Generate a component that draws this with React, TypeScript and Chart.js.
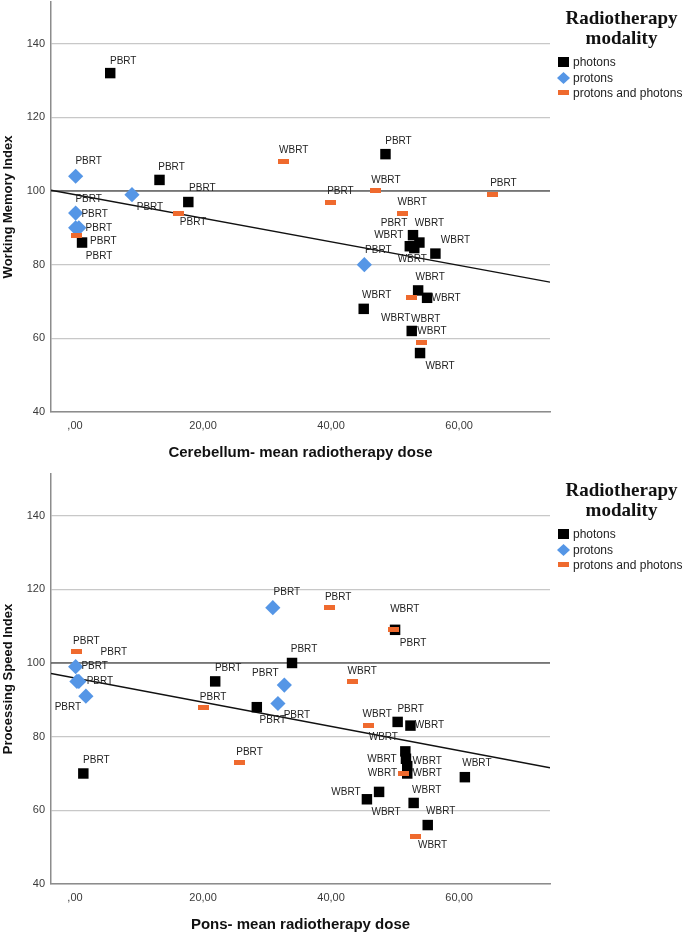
import React, { useEffect, useRef } from "react";
import { Chart, registerables } from "chart.js";

Chart.register(...registerables);

// ---------- shared axis values ----------
const xTicks = [0, 20, 40, 60];
const yTicks = [40, 60, 80, 100, 120, 140];
const xMin = -3.75;
const xMax = 74.2;
const yMin = 40;
const yMax = 151.3;
const referenceLevel = 100;
const legendTitle = ["Radiotherapy", "modality"];
const seriesNames = ["photons", "protons", "protons and photons"];

// ---------- Working Memory Index vs Cerebellum dose ----------
// [dose, index, label]
const wmPhotons: [number, number, string][] = [
  [5.5, 132, "PBRT"],
  [13.2, 103, "PBRT"],
  [17.7, 97, "PBRT"],
  [1.1, 86, "PBRT"],
  [48.5, 110, "PBRT"],
  [52.8, 88, "PBRT"],
  [53.8, 86, "WBRT"],
  [52.3, 85, "WBRT"],
  [53.0, 84.5, "WBRT"],
  [56.3, 83, "WBRT"],
  [53.6, 73, "WBRT"],
  [55.0, 71, "WBRT"],
  [45.1, 68, "WBRT"],
  [52.6, 62, "WBRT"],
  [53.9, 56, "WBRT"],
];
const wmPhotonsLabelShift: [number, number][] = [
  [13, -12], [12, -13], [14, -14], [17, 14], [13, -13], [-19, -12], [10, -19],
  [-21, -11], [-2, 11], [20, -13], [12, -13], [19, 0], [13, -14], [14, -12], [20, 13],
];
const wmProtons: [number, number, string][] = [
  [0.1, 104, "PBRT"],
  [0.1, 94, "PBRT"],
  [0.1, 90, "PBRT"],
  [0.6, 90, "PBRT"],
  [8.9, 99, "PBRT"],
  [45.2, 80, "PBRT"],
];
const wmProtonsLabelShift: [number, number][] = [
  [13, -15], [13, -14], [19, -14], [20, 0], [18, 13], [14, -14],
];
const wmMixed: [number, number, string][] = [
  [0.2, 88, "PBRT"],
  [16.1, 94, "PBRT"],
  [32.6, 108, "WBRT"],
  [39.9, 97, "PBRT"],
  [47.0, 100, "WBRT"],
  [65.2, 99, "PBRT"],
  [51.1, 94, "WBRT"],
  [52.6, 71, "WBRT"],
  [54.2, 59, "WBRT"],
];
const wmMixedLabelShift: [number, number][] = [
  [27, 6], [15, 9], [10, -11], [10, -11], [10, -11], [11, -11], [10, -11], [-16, 20], [10, -11],
];
const wmFit = { intercept: 99.0, slope: -0.32 };

// ---------- Processing Speed Index vs Pons dose ----------
const psPhotons: [number, number, string][] = [
  [1.3, 70, "PBRT"],
  [21.9, 95, "PBRT"],
  [28.4, 88, "PBRT"],
  [33.9, 100, "PBRT"],
  [50.0, 109, "PBRT"],
  [50.4, 84, "PBRT"],
  [52.4, 83, "WBRT"],
  [51.6, 76, "WBRT"],
  [51.7, 74, "WBRT"],
  [51.9, 72, "WBRT"],
  [51.9, 70, "WBRT"],
  [60.9, 69, "WBRT"],
  [45.6, 63, "WBRT"],
  [47.5, 65, "WBRT"],
  [52.9, 62, "WBRT"],
  [55.1, 56, "WBRT"],
];
const psPhotonsLabelShift: [number, number][] = [
  [13, -13], [13, -13], [16, 13], [12, -14], [18, 13], [13, -13], [19, 0], [-22, -14],
  [-24, 0], [20, -5], [20, 0], [12, -14], [-21, -7], [7, 20], [13, -13], [13, -14],
];
const psProtons: [number, number, string][] = [
  [0.1, 99, "PBRT"],
  [0.3, 95, "PBRT"],
  [0.6, 95, "PBRT"],
  [1.7, 91, "PBRT"],
  [30.9, 115, "PBRT"],
  [32.7, 94, "PBRT"],
  [31.7, 89, "PBRT"],
];
const psProtonsLabelShift: [number, number][] = [
  [19, 0], [23, 0], [35, -29], [-18, 11], [14, -15], [-19, -12], [19, 12],
];
const psMixed: [number, number, string][] = [
  [0.2, 103, "PBRT"],
  [20.0, 88, "PBRT"],
  [25.7, 73, "PBRT"],
  [39.7, 115, "PBRT"],
  [43.3, 95, "WBRT"],
  [49.8, 109, "WBRT"],
  [45.8, 83, "WBRT"],
  [51.3, 70, "WBRT"],
  [53.2, 53, "WBRT"],
];
const psMixedLabelShift: [number, number][] = [
  [10, -11], [10, -10], [10, -10], [9, -10], [10, -10], [11, -21], [9, -11], [-21, 0], [17, 9],
];
const psFit = { intercept: 95.9, slope: -0.328 };

// ---------- styles ----------
const BLACK = "#000000";
const BLUE = "#5596E6";
const ORANGE = "#EF6A2E";

function makeOrangeBar(): HTMLCanvasElement {
  const c = document.createElement("canvas");
  c.width = 11;
  c.height = 5;
  const g = c.getContext("2d")!;
  g.fillStyle = ORANGE;
  g.fillRect(0, 0, 11, 5);
  return c;
}

const fmtTick = (v: number) => (v === 0 ? ",00" : `${v},00`);

const labelPlugin = {
  id: "pointLabels",
  afterDatasetsDraw(chart: any) {
    const ctx = chart.ctx;
    ctx.save();
    ctx.font = '10px "Liberation Sans", Arial, sans-serif';
    ctx.fillStyle = "#222";
    ctx.textAlign = "center";
    ctx.textBaseline = "middle";
    chart.data.datasets.forEach((ds: any, di: number) => {
      if (!ds.pointText) return;
      const meta = chart.getDatasetMeta(di);
      meta.data.forEach((el: any, i: number) => {
        const [dx, dy] = ds.labelShift[i];
        ctx.fillText(ds.pointText[i], el.x + dx, el.y + dy);
      });
    });
    ctx.restore();
  },
};

const legendPlugin = {
  id: "sideLegend",
  afterDraw(chart: any) {
    const ctx = chart.ctx;
    const t = chart.chartArea.top;
    ctx.save();
    ctx.fillStyle = "#111";
    ctx.textAlign = "center";
    ctx.textBaseline = "middle";
    ctx.font = 'bold 19px "Liberation Serif", "Times New Roman", serif';
    ctx.fillText(legendTitle[0], 621.5, t + 17);
    ctx.fillText(legendTitle[1], 621.5, t + 37);
    const ys = [t + 60, t + 76, t + 91];
    const mx = 563.5;
    // photons square
    ctx.fillStyle = BLACK;
    ctx.fillRect(mx - 5.5, ys[0] - 5, 11, 10);
    // protons diamond
    ctx.fillStyle = BLUE;
    ctx.beginPath();
    ctx.moveTo(mx - 6.5, ys[1]);
    ctx.lineTo(mx, ys[1] - 6);
    ctx.lineTo(mx + 6.5, ys[1]);
    ctx.lineTo(mx, ys[1] + 6);
    ctx.closePath();
    ctx.fill();
    // mixed bar
    ctx.fillStyle = ORANGE;
    ctx.fillRect(mx - 5.5, ys[2] - 3, 11, 5);
    ctx.fillStyle = "#222";
    ctx.textAlign = "left";
    ctx.font = '12px "Liberation Sans", Arial, sans-serif';
    seriesNames.forEach((n, i) => ctx.fillText(n, 573, ys[i] + 1));
    ctx.restore();
  },
};

type Pt = [number, number, string];

interface PanelProps {
  height: number;
  xTitle: string;
  yTitle: string;
  photons: Pt[];
  photonsShift: [number, number][];
  protons: Pt[];
  protonsShift: [number, number][];
  mixed: Pt[];
  mixedShift: [number, number][];
  fit: { intercept: number; slope: number };
}

function ScatterPanel(p: PanelProps) {
  const ref = useRef<HTMLCanvasElement>(null);
  useEffect(() => {
    const canvas = ref.current!;
    const toXY = (arr: Pt[]) => arr.map(([x, y]) => ({ x, y }));
    const chart = new Chart(canvas, {
      type: "scatter",
      data: {
        datasets: [
          {
            type: "line",
            data: [
              { x: xMin, y: referenceLevel },
              { x: xMax, y: referenceLevel },
            ],
            borderColor: "#222",
            borderWidth: 1.2,
            pointRadius: 0,
            order: 10,
          } as any,
          {
            type: "line",
            data: [
              { x: xMin, y: p.fit.intercept + p.fit.slope * xMin },
              { x: xMax, y: p.fit.intercept + p.fit.slope * xMax },
            ],
            borderColor: "#111",
            borderWidth: 1.4,
            pointRadius: 0,
            order: 9,
          } as any,
          {
            label: seriesNames[0],
            data: toXY(p.photons),
            pointStyle: "rect",
            pointRadius: 7.4,
            pointHoverRadius: 7.4,
            backgroundColor: BLACK,
            borderWidth: 0,
            order: 3,
            pointText: p.photons.map((d) => d[2]),
            labelShift: p.photonsShift,
          } as any,
          {
            label: seriesNames[1],
            data: toXY(p.protons),
            pointStyle: "rectRot",
            pointRadius: 7.6,
            pointHoverRadius: 7.6,
            backgroundColor: BLUE,
            borderWidth: 0,
            order: 2,
            pointText: p.protons.map((d) => d[2]),
            labelShift: p.protonsShift,
          } as any,
          {
            label: seriesNames[2],
            data: toXY(p.mixed),
            pointStyle: makeOrangeBar(),
            pointRadius: 6,
            backgroundColor: ORANGE,
            borderWidth: 0,
            order: 1,
            pointText: p.mixed.map((d) => d[2]),
            labelShift: p.mixedShift,
          } as any,
        ],
      },
      options: {
        animation: false,
        responsive: false,
        devicePixelRatio: 1,
        events: [],
        layout: {
          autoPadding: false,
          padding: { left: 0, right: 135, top: 2, bottom: p.height - 2 - 410 - 50 },
        },
        plugins: {
          legend: { display: false },
          tooltip: { enabled: false },
        },
        scales: {
          x: {
            type: "linear",
            min: xMin,
            max: xMax,
            afterBuildTicks: (s: any) => {
              s.ticks = xTicks.map((v) => ({ value: v }));
            },
            afterFit: (s: any) => {
              s.height = 50;
              s.paddingLeft = 0;
              s.paddingRight = 0;
            },
            ticks: {
              callback: (v: any) => fmtTick(Number(v)),
              font: { family: '"Liberation Sans", Arial, sans-serif', size: 11 },
              color: "#3a3a3a",
              padding: 7,
              maxRotation: 0,
              autoSkip: false,
            },
            grid: { display: false, drawTicks: false },
            border: { display: true, color: "#8c8c8c", width: 1.5 },
            title: {
              display: true,
              text: p.xTitle,
              color: "#111",
              font: { family: '"Liberation Sans", Arial, sans-serif', size: 15, weight: "bold" },
              padding: { top: 0, bottom: 0 },
            },
          },
          y: {
            type: "linear",
            min: yMin,
            max: yMax,
            afterBuildTicks: (s: any) => {
              s.ticks = yTicks.map((v) => ({ value: v }));
            },
            afterFit: (s: any) => {
              s.width = 51;
              s.paddingTop = 0;
              s.paddingBottom = 0;
            },
            ticks: {
              font: { family: '"Liberation Sans", Arial, sans-serif', size: 11 },
              color: "#3a3a3a",
              padding: 6,
              autoSkip: false,
            },
            grid: {
              drawTicks: false,
              color: "#c8c8c8",
              lineWidth: 1.2,
            },
            border: { display: true, color: "#8c8c8c", width: 1.5 },
            title: {
              display: true,
              text: p.yTitle,
              color: "#111",
              font: { family: '"Liberation Sans", Arial, sans-serif', size: 13, weight: "bold" },
              padding: { top: 1, bottom: 0 },
            },
          },
        },
      },
      plugins: [labelPlugin, legendPlugin],
    } as any);
    return () => chart.destroy();
  }, []);
  return (
    <canvas
      ref={ref}
      width={685}
      height={p.height}
      style={{ display: "block", width: 685, height: p.height }}
    />
  );
}

export default function App() {
  return (
    <div style={{ position: "absolute", left: 0, top: 0, width: 685, height: 934, background: "#fff" }}>
      <ScatterPanel
        height={472}
        xTitle="Cerebellum- mean radiotherapy dose"
        yTitle="Working Memory Index"
        photons={wmPhotons}
        photonsShift={wmPhotonsLabelShift}
        protons={wmProtons}
        protonsShift={wmProtonsLabelShift}
        mixed={wmMixed}
        mixedShift={wmMixedLabelShift}
        fit={wmFit}
      />
      <ScatterPanel
        height={462}
        xTitle="Pons- mean radiotherapy dose"
        yTitle="Processing Speed Index"
        photons={psPhotons}
        photonsShift={psPhotonsLabelShift}
        protons={psProtons}
        protonsShift={psProtonsLabelShift}
        mixed={psMixed}
        mixedShift={psMixedLabelShift}
        fit={psFit}
      />
    </div>
  );
}
